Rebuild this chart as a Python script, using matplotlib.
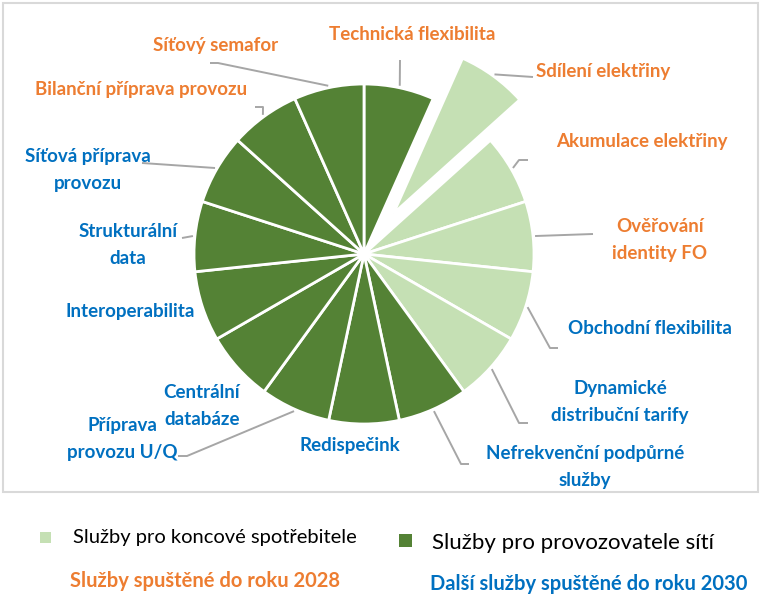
import numpy as np
import matplotlib
matplotlib.use("Agg")
import matplotlib.pyplot as plt
from matplotlib.patches import Rectangle

plt.rcParams['font.family'] = ['Lato', 'DejaVu Sans']

# ---------------- data ----------------
services = ["Technická flexibilita", "Sdílení elektřiny", "Akumulace elektřiny",
            "Ověřování\nidentity FO", "Obchodní flexibilita",
            "Dynamické\ndistribuční tarify", "Nefrekvenční podpůrné\nslužby",
            "Redispečink", "Příprava\nprovozu U/Q", "Centrální\ndatabáze",
            "Interoperabilita", "Strukturální\ndata", "Síťová příprava\nprovozu",
            "Bilanční příprava provozu", "Síťový semafor"]
weights = [1] * 15
groups = ["op", "cons", "cons", "cons", "cons", "cons", "op", "op", "op", "op",
          "op", "op", "op", "op", "op"]
years = [2028, 2028, 2028, 2028, 2030, 2030, 2030, 2030, 2030, 2030,
         2030, 2030, 2030, 2028, 2028]
exploded = "Sdílení elektřiny"
legend_groups = ["cons", "op"]
legend_texts = ["Služby pro koncové spotřebitele", "Služby pro provozovatele sítí"]
year_groups = [2028, 2030]
year_texts = ["Služby spuštěné do roku 2028", "Další služby spuštěné do roku 2030"]

# ---------------- styles ----------------
group_color = {"cons": "#c5e0b4", "op": "#548235"}
year_color = {2028: "#ed7d31", 2030: "#0070c0"}
lead_color = "#a6a6a6"

W, H = 760, 600
fig = plt.figure(figsize=(W / 100, H / 100), dpi=100)
ax = fig.add_axes([0, 0, 1, 1])

def Y(py):
    return H - py

cx, cy, R = 364, 254, 170
explode_offset = 50
explode = [explode_offset if s == exploded else 0 for s in services]
colors = [group_color[g] for g in groups]

wedges, _ = ax.pie(weights, colors=colors, explode=explode, startangle=90,
                   counterclock=False, radius=R, center=(cx, Y(cy)),
                   wedgeprops=dict(edgecolor='white', linewidth=2.0),
                   frame=True)
ax.set_xlim(0, W)
ax.set_ylim(0, H)
ax.set_aspect('equal')
ax.axis('off')

# frame
ax.add_patch(Rectangle((2.5, Y(492)), 755, 489.5, fill=False,
                       edgecolor='#d9d9d9', linewidth=1.5))

# label layout (pixel positions): text center, leader waypoints
layout = {
    "Technická flexibilita": ((412, 35), [(400, 60)]),
    "Sdílení elektřiny": ((603, 71), [(533, 77)]),
    "Akumulace elektřiny": ((642, 141), [(519, 160), (528, 160)]),
    "Ověřování\nidentity FO": ((660, 240), [(593, 234)]),
    "Obchodní flexibilita": ((650, 328), [(550, 348), (558, 348)]),
    "Dynamické\ndistribuční tarify": ((620, 402), [(519, 423), (528, 423)]),
    "Nefrekvenční podpůrné\nslužby": ((585, 467), [(461, 464), (469, 464)]),
    "Redispečink": ((350, 446), None),
    "Příprava\nprovozu U/Q": ((122, 439), [(187, 456), (178, 456)]),
    "Centrální\ndatabáze": ((202, 406), None),
    "Interoperabilita": ((130, 312), None),
    "Strukturální\ndata": ((128, 245), [(182, 238)]),
    "Síťová příprava\nprovozu": ((88, 170), [(142, 163)]),
    "Bilanční příprava provozu": ((141, 90), [(263, 107), (255, 107)]),
    "Síťový semafor": ((216, 45), [(218, 63), (210, 63)]),
}

for w, name, yr in zip(wedges, services, years):
    (tx, ty), pts = layout[name]
    ax.text(tx, Y(ty), name, ha='center', va='center', fontsize=13.5,
            fontweight='bold', color=year_color[yr], linespacing=1.7)
    if pts:
        ang = np.deg2rad((w.theta1 + w.theta2) / 2)
        wx, wy = w.center
        sx = wx + (w.r + 2) * np.cos(ang)
        sy = wy + (w.r + 2) * np.sin(ang)
        xs = [sx] + [p[0] for p in pts]
        ys = [sy] + [Y(p[1]) for p in pts]
        ax.plot(xs, ys, color=lead_color, linewidth=1.4, solid_capstyle='butt')

# legend
leg_sq = [(40, 532, 11), (399, 534, 13)]
leg_txt = [(73, 538, 14.5), (432, 543, 16)]
for g, t, (qx, qy, qs), (lx, ly, fs) in zip(legend_groups, legend_texts, leg_sq, leg_txt):
    ax.add_patch(Rectangle((qx, Y(qy + qs)), qs, qs, facecolor=group_color[g],
                           edgecolor='none'))
    ax.text(lx, Y(ly), t, ha='left', va='center', fontsize=fs, color='black')

yr_pos = [(70, 581), (430, 584)]
for yv, t, (lx, ly) in zip(year_groups, year_texts, yr_pos):
    ax.text(lx, Y(ly), t, ha='left', va='center', fontsize=14.5,
            fontweight='bold', color=year_color[yv])

fig.savefig("out.png", dpi=100, facecolor='white')
